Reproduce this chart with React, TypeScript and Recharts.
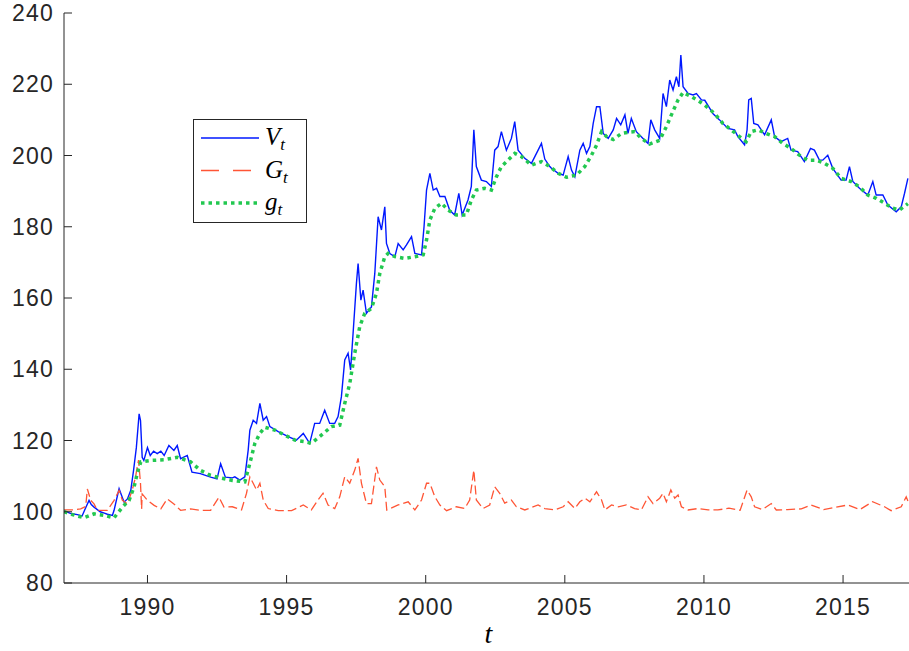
import React from "react";
import { LineChart, Line, XAxis, YAxis } from "recharts";

// [year, value] pairs
const seriesV: [number, number][] = [
  [1987.0, 100.3], [1987.25, 99.5], [1987.48, 99.2], [1987.65, 98.8], [1987.8, 101.5], [1987.9, 103.2],
  [1987.98, 102.0], [1988.08, 101.3], [1988.3, 100.0], [1988.45, 99.6], [1988.56, 99.3], [1988.74, 99.0],
  [1988.8, 100.4], [1988.92, 104.5], [1988.98, 106.5], [1989.05, 105.0], [1989.16, 102.7], [1989.28, 103.6],
  [1989.4, 106.0], [1989.5, 111.6], [1989.6, 118.0], [1989.7, 127.5], [1989.75, 125.6], [1989.81, 115.3],
  [1989.87, 114.4], [1990.0, 118.0], [1990.1, 115.8], [1990.22, 117.0], [1990.35, 116.3], [1990.48, 117.0],
  [1990.6, 115.8], [1990.77, 118.6], [1990.95, 117.2], [1991.07, 118.6], [1991.19, 114.9], [1991.43, 115.8],
  [1991.6, 111.1], [1991.9, 110.7], [1992.27, 109.7], [1992.5, 109.2], [1992.63, 113.5], [1992.8, 109.7],
  [1993.05, 109.5], [1993.14, 109.8], [1993.32, 108.9], [1993.5, 109.8], [1993.62, 117.3], [1993.68, 122.9],
  [1993.8, 125.7], [1993.92, 124.8], [1994.04, 130.4], [1994.16, 125.7], [1994.28, 126.7], [1994.4, 123.9],
  [1994.7, 122.5], [1995.06, 121.1], [1995.35, 120.1], [1995.6, 122.0], [1995.83, 119.2], [1996.01, 124.8],
  [1996.19, 124.8], [1996.37, 128.5], [1996.55, 124.8], [1996.73, 124.8], [1996.85, 126.7], [1996.97, 132.3],
  [1997.09, 142.6], [1997.21, 144.5], [1997.3, 139.8], [1997.39, 150.1], [1997.51, 164.1], [1997.57, 169.7],
  [1997.67, 159.4], [1997.75, 162.2], [1997.87, 155.7], [1998.05, 157.5], [1998.17, 166.9], [1998.29, 182.8],
  [1998.41, 179.1], [1998.53, 185.6], [1998.59, 175.3], [1998.71, 172.5], [1998.89, 171.6], [1999.01, 175.3],
  [1999.19, 173.5], [1999.31, 174.9], [1999.49, 177.2], [1999.61, 172.5], [1999.85, 172.1], [1999.94, 180.0],
  [2000.03, 190.3], [2000.15, 195.0], [2000.27, 190.3], [2000.39, 190.8], [2000.51, 188.5], [2000.69, 188.5],
  [2000.86, 184.7], [2001.04, 183.3], [2001.19, 189.4], [2001.31, 183.3], [2001.52, 187.5], [2001.64, 191.3],
  [2001.73, 207.2], [2001.82, 196.9], [2002.0, 193.1], [2002.18, 192.7], [2002.36, 191.3], [2002.48, 201.5],
  [2002.6, 202.5], [2002.72, 206.7], [2002.9, 201.5], [2003.08, 204.8], [2003.2, 209.5], [2003.32, 201.5],
  [2003.56, 199.2], [2003.8, 197.8], [2004.04, 201.5], [2004.16, 203.4], [2004.28, 199.0], [2004.46, 196.9],
  [2004.52, 196.4], [2004.76, 195.0], [2004.94, 194.5], [2005.12, 199.7], [2005.24, 195.9], [2005.36, 194.0],
  [2005.54, 201.5], [2005.66, 203.4], [2005.78, 200.6], [2005.9, 202.5], [2006.02, 209.0], [2006.14, 213.7],
  [2006.26, 213.7], [2006.38, 206.2], [2006.56, 204.8], [2006.74, 207.2], [2006.86, 210.4], [2007.01, 208.6],
  [2007.16, 211.4], [2007.27, 206.2], [2007.39, 210.4], [2007.57, 206.7], [2007.81, 204.8], [2007.99, 203.4],
  [2008.09, 210.0], [2008.23, 207.2], [2008.41, 204.8], [2008.53, 217.4], [2008.65, 213.7], [2008.77, 221.2],
  [2008.89, 218.4], [2009.01, 222.1], [2009.1, 219.3], [2009.17, 228.2], [2009.25, 219.3], [2009.43, 217.4],
  [2009.61, 217.0], [2009.73, 217.4], [2009.91, 215.6], [2010.03, 215.5], [2010.21, 213.2], [2010.32, 211.8],
  [2010.56, 210.0], [2010.86, 207.6], [2011.1, 207.2], [2011.22, 205.3], [2011.46, 203.0], [2011.55, 207.2],
  [2011.61, 215.6], [2011.7, 216.0], [2011.79, 209.0], [2011.94, 208.6], [2012.18, 205.8], [2012.42, 210.0],
  [2012.54, 205.3], [2012.77, 203.9], [2013.01, 204.8], [2013.13, 201.5], [2013.37, 201.1], [2013.61, 198.3],
  [2013.83, 202.0], [2013.97, 201.5], [2014.15, 198.7], [2014.27, 198.7], [2014.45, 200.1], [2014.63, 196.4],
  [2014.93, 193.1], [2015.11, 193.1], [2015.23, 196.9], [2015.35, 192.7], [2015.59, 190.8], [2015.89, 188.9],
  [2016.07, 192.7], [2016.19, 188.9], [2016.43, 188.9], [2016.61, 186.1], [2016.91, 184.2], [2017.09, 185.6],
  [2017.21, 189.4], [2017.33, 193.6],
];

const seriesG: [number, number][] = [
  [1987.0, 100.5], [1987.3, 100.5], [1987.6, 100.8], [1987.78, 101.5], [1987.84, 106.4], [1987.96, 103.2],
  [1988.08, 102.2], [1988.2, 100.4], [1988.56, 100.4], [1988.8, 103.2], [1988.98, 106.0], [1989.1, 103.2],
  [1989.28, 102.2], [1989.45, 106.0], [1989.57, 109.7], [1989.63, 112.5], [1989.68, 114.5], [1989.75, 107.9],
  [1989.79, 100.8], [1989.81, 105.0], [1990.0, 103.2], [1990.24, 101.8], [1990.48, 100.8], [1990.71, 103.6],
  [1990.95, 102.2], [1991.19, 100.4], [1991.55, 100.8], [1991.91, 100.4], [1992.27, 100.4], [1992.57, 104.1],
  [1992.75, 101.3], [1993.05, 101.4], [1993.38, 100.5], [1993.56, 105.2], [1993.68, 109.8], [1993.8, 108.0],
  [1993.92, 106.1], [1994.04, 108.0], [1994.16, 103.3], [1994.34, 100.9], [1994.7, 100.3], [1995.18, 100.3],
  [1995.6, 101.9], [1995.89, 100.5], [1996.13, 103.3], [1996.31, 105.2], [1996.49, 101.9], [1996.73, 100.9],
  [1996.91, 104.2], [1997.09, 109.8], [1997.27, 108.0], [1997.45, 111.7], [1997.57, 115.0], [1997.69, 108.0],
  [1997.87, 102.3], [1998.05, 102.3], [1998.23, 112.6], [1998.35, 108.9], [1998.53, 107.0], [1998.6, 100.5],
  [1999.01, 101.9], [1999.37, 102.8], [1999.61, 100.5], [1999.85, 103.3], [2000.03, 108.0], [2000.15, 108.0],
  [2000.33, 104.2], [2000.51, 101.9], [2000.75, 100.3], [2001.1, 101.4], [2001.4, 100.9], [2001.58, 103.3],
  [2001.73, 111.7], [2001.82, 103.3], [2002.06, 100.9], [2002.3, 101.9], [2002.48, 107.0], [2002.66, 105.2],
  [2002.84, 102.4], [2003.08, 103.3], [2003.26, 101.4], [2003.56, 100.5], [2004.04, 101.9], [2004.28, 100.9],
  [2004.64, 100.5], [2004.94, 101.4], [2005.12, 102.8], [2005.36, 100.9], [2005.54, 102.8], [2005.72, 103.8],
  [2005.9, 102.8], [2006.14, 105.6], [2006.32, 103.3], [2006.44, 100.5], [2006.68, 101.9], [2006.92, 101.4],
  [2007.21, 101.9], [2007.51, 100.9], [2007.75, 100.5], [2007.99, 104.2], [2008.17, 102.3], [2008.41, 103.8],
  [2008.53, 105.2], [2008.65, 102.8], [2008.81, 106.1], [2008.95, 103.8], [2009.07, 104.7], [2009.19, 101.4],
  [2009.43, 100.5], [2009.79, 100.9], [2010.15, 100.5], [2010.5, 100.5], [2010.9, 101.0], [2011.3, 100.4],
  [2011.55, 106.1], [2011.7, 104.2], [2011.82, 101.4], [2012.1, 100.6], [2012.42, 102.3], [2012.6, 100.5],
  [2013.0, 100.6], [2013.5, 100.8], [2013.85, 101.9], [2014.3, 100.6], [2014.7, 101.2], [2015.17, 101.9],
  [2015.6, 100.6], [2016.06, 102.8], [2016.49, 101.4], [2016.73, 100.3], [2017.09, 101.4], [2017.27, 104.2],
  [2017.33, 103.0],
];

const seriesSmallG: [number, number][] = [
  [1987.0, 100.0], [1987.3, 99.2], [1987.72, 98.3], [1988.08, 99.4], [1988.44, 99.0], [1988.8, 98.3],
  [1989.1, 101.3], [1989.34, 103.2], [1989.52, 107.0], [1989.64, 111.0], [1989.76, 114.0], [1990.11, 114.4],
  [1990.6, 114.6], [1991.07, 115.3], [1991.55, 114.0], [1991.91, 111.6], [1992.27, 110.2], [1992.63, 109.5],
  [1993.05, 108.8], [1993.5, 108.4], [1993.68, 113.6], [1993.86, 119.2], [1994.04, 122.0], [1994.22, 123.7],
  [1994.58, 122.9], [1994.94, 121.5], [1995.3, 120.1], [1995.65, 119.7], [1995.89, 119.2], [1996.25, 121.5],
  [1996.61, 123.9], [1996.91, 124.3], [1997.09, 130.4], [1997.27, 136.0], [1997.45, 144.5], [1997.63, 152.0],
  [1997.81, 155.7], [1998.05, 157.1], [1998.23, 161.3], [1998.35, 166.9], [1998.53, 171.6], [1998.65, 172.5],
  [1998.89, 171.6], [1999.25, 171.1], [1999.61, 171.6], [1999.91, 172.1], [2000.03, 176.3], [2000.15, 181.9],
  [2000.33, 185.2], [2000.57, 186.6], [2000.8, 184.7], [2001.1, 183.3], [2001.46, 183.3], [2001.64, 187.5],
  [2001.82, 190.3], [2002.12, 190.8], [2002.36, 190.3], [2002.54, 194.0], [2002.72, 196.9], [2002.96, 198.7],
  [2003.2, 200.6], [2003.44, 199.7], [2003.8, 197.3], [2004.16, 198.3], [2004.46, 196.9], [2004.76, 195.0],
  [2005.06, 193.9], [2005.42, 194.5], [2005.72, 196.9], [2005.96, 200.1], [2006.14, 202.9], [2006.32, 206.7],
  [2006.5, 205.3], [2006.74, 204.5], [2007.04, 206.2], [2007.27, 206.5], [2007.51, 206.7], [2007.75, 204.8],
  [2008.05, 203.2], [2008.41, 204.3], [2008.65, 208.1], [2008.83, 211.4], [2009.07, 215.6], [2009.25, 217.7],
  [2009.55, 216.5], [2009.85, 215.1], [2010.02, 214.2], [2010.38, 211.8], [2010.68, 209.0], [2010.98, 207.2],
  [2011.28, 205.3], [2011.52, 203.9], [2011.7, 206.7], [2011.94, 207.2], [2012.24, 206.2], [2012.54, 205.3],
  [2012.83, 203.4], [2013.13, 202.0], [2013.43, 200.1], [2013.73, 198.7], [2014.03, 198.7], [2014.33, 197.8],
  [2014.63, 196.4], [2014.93, 193.6], [2015.29, 192.7], [2015.59, 191.2], [2015.89, 188.9], [2016.19, 188.0],
  [2016.49, 186.6], [2016.79, 185.2], [2017.03, 184.7], [2017.33, 186.5],
];

const xTicks = [1990, 1995, 2000, 2005, 2010, 2015];
const yTicks = [80, 100, 120, 140, 160, 180, 200, 220, 240];

const toRows = (pts: [number, number][]) => pts.map(([t, v]) => ({ t, v }));

const AXIS = "#262626";
const BLUE = "#0018ff";
const RED = "#ff5535";
const GREEN = "#22c850";
const SANS = "'Liberation Sans', Arial, sans-serif";
const SERIF = "'Liberation Serif', 'Times New Roman', serif";

const YTick = (props: any) => {
  const { x, y, payload } = props;
  return (
    <g>
      <line x1={x} x2={x + 8} y1={y} y2={y} stroke={AXIS} strokeWidth={1} />
      <text x={x - 10} y={y} dy={8} textAnchor="end" fontSize={23} letterSpacing={1.2}
        fontFamily={SANS} fill={AXIS}>
        {payload.value}
      </text>
    </g>
  );
};

const XTick = (props: any) => {
  const { x, y, payload } = props;
  return (
    <g>
      <line x1={x} x2={x} y1={y} y2={y - 8} stroke={AXIS} strokeWidth={1} />
      <text x={x} y={y} dy={32} textAnchor="middle" fontSize={23} letterSpacing={1.2}
        fontFamily={SANS} fill={AXIS}>
        {payload.value}
      </text>
    </g>
  );
};

const legendItems = [
  { base: "V", color: BLUE, dash: undefined, width: 1.3 },
  { base: "G", color: RED, dash: "18 14", width: 1.3 },
  { base: "g", color: GREEN, dash: "3.5 4", width: 3.5 },
];

const LegendBox = () => (
  <svg width={114} height={104} style={{ display: "block" }}>
    <rect x={0.5} y={0.5} width={113} height={103} fill="#fff" stroke={AXIS} strokeWidth={1} />
    {legendItems.map((it, i) => {
      const cy = 19 + i * 32.5;
      return (
        <g key={it.base}>
          <line x1={8} x2={66} y1={cy} y2={cy} stroke={it.color} strokeWidth={it.width}
            strokeDasharray={it.dash} />
          <text x={72} y={cy + 7} fontFamily={SERIF} fontSize={25} fontStyle="italic" fill="#000">
            {it.base}
            <tspan fontSize={17} dy={5}>t</tspan>
          </text>
        </g>
      );
    })}
  </svg>
);

export default function App() {
  return (
    <div style={{ position: "absolute", left: 0, top: 0, width: 909, height: 651, background: "#fff" }}>
      <LineChart width={909} height={651} margin={{ top: 13, right: 0, left: 0, bottom: 0 }}>
        <XAxis
          type="number"
          dataKey="t"
          domain={[1987.0, 2017.37]}
          ticks={xTicks}
          allowDataOverflow
          height={68}
          tickSize={0}
          tickMargin={0}
          tickLine={false}
          axisLine={{ stroke: AXIS, strokeWidth: 1 }}
          tick={<XTick />}
          label={{
            content: (p: any) => {
              const vb = p.viewBox;
              return (
                <text x={vb.x + vb.width / 2 + 2} y={vb.y + 60} textAnchor="middle" fontFamily={SERIF}
                  fontStyle="italic" fontSize={28} fill="#000">
                  t
                </text>
              );
            },
          }}
        />
        <YAxis
          type="number"
          domain={[80, 240]}
          ticks={yTicks}
          allowDataOverflow
          width={64}
          tickSize={0}
          tickMargin={0}
          tickLine={false}
          axisLine={{ stroke: AXIS, strokeWidth: 1 }}
          tick={<YTick />}
        />
        <Line data={toRows(seriesV)} dataKey="v" name="V_t" type="linear" stroke={BLUE}
          strokeWidth={1.4} dot={false} isAnimationActive={false} />
        <Line data={toRows(seriesG)} dataKey="v" name="G_t" type="linear" stroke={RED}
          strokeWidth={1.3} strokeDasharray="9 4" dot={false} isAnimationActive={false} />
        <Line data={toRows(seriesSmallG)} dataKey="v" name="g_t" type="linear" stroke={GREEN}
          strokeWidth={3.5} strokeDasharray="3.5 4" dot={false} isAnimationActive={false} />
      </LineChart>
      <div style={{ position: "absolute", left: 193, top: 119 }}>
        <LegendBox />
      </div>
    </div>
  );
}
